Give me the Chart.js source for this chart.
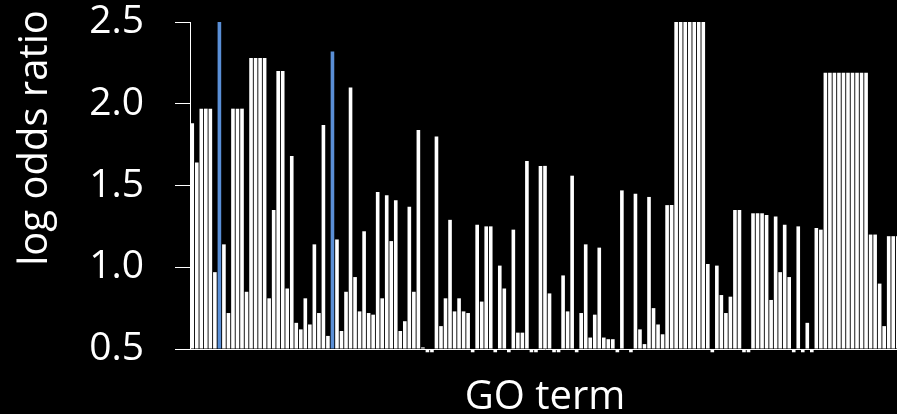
<!DOCTYPE html>
<html>
<head>
<meta charset="utf-8">
<title>log odds ratio by GO term</title>
<script src="https://cdn.jsdelivr.net/npm/chart.js@4.4.1/dist/chart.umd.min.js"></script>
<style>
  html, body { margin: 0; padding: 0; background: #000; overflow: hidden; }
  #wrap { position: relative; width: 900px; height: 414px; }
</style>
</head>
<body>
<div id="wrap"><canvas id="chart" width="900" height="414"></canvas></div>
<script>
// Log odds ratio for each enriched GO term (axis baseline sits at 0.5)
const logOddsRatio = [
  1.88, 1.64, 1.97, 1.97, 1.97, 0.97, 2.50, 1.14, 0.72, 1.97,
  1.97, 1.97, 0.85, 2.28, 2.28, 2.28, 2.28, 0.81, 1.35, 2.20,
  2.20, 0.87, 1.68, 0.66, 0.62, 0.81, 0.65, 1.14, 0.72, 1.87,
  0.58, 2.32, 1.17, 0.61, 0.85, 2.10, 0.94, 0.73, 1.22, 0.72,
  0.71, 1.46, 0.81, 1.44, 1.16, 1.41, 0.61, 0.67, 1.37, 0.85,
  1.84, 0.51, 0.48, 0.48, 1.80, 0.64, 0.81, 1.29, 0.73, 0.81,
  0.73, 0.72, 0.48, 1.26, 0.79, 1.25, 1.25, 0.48, 1.01, 0.87,
  0.48, 1.23, 0.60, 0.60, 1.65, 0.48, 0.48, 1.62, 1.62, 0.84,
  0.48, 0.48, 0.95, 0.73, 1.56, 0.48, 0.72, 1.14, 0.57, 0.71,
  1.12, 0.57, 0.56, 0.56, 0.48, 1.47, 0.50, 0.48, 1.45, 0.62,
  0.53, 1.43, 0.75, 0.65, 0.59, 1.38, 1.38, 2.50, 2.50, 2.50,
  2.50, 2.50, 2.50, 2.50, 1.02, 0.48, 1.01, 0.83, 0.72, 0.82,
  1.35, 1.35, 0.48, 0.48, 1.33, 1.33, 1.33, 1.32, 0.80, 1.31,
  0.97, 1.26, 0.94, 0.48, 1.25, 0.48, 0.66, 0.48, 1.24, 1.23,
  2.19, 2.19, 2.19, 2.19, 2.19, 2.19, 2.19, 2.19, 2.19, 2.19,
  1.20, 1.20, 0.90, 0.64, 1.19, 1.19, 1.19
];

// Terms drawn in blue
const highlightedTerms = [6, 31];

// Unlabelled categories, one per GO term
const goTerms = logOddsRatio.map((_, i) => 'GO:' + (i + 1));

// Y axis ticks
const yTickValues = [0.5, 1.0, 1.5, 2.0, 2.5];
const yTickLabels = ['0.5', '1.0', '1.5', '2.0', '2.5'];

const yAxisTitle = 'log odds ratio';
const xAxisTitle = 'GO term';

const FONT = '"Open Sans", "Noto Sans", sans-serif';
const WHITE = '#ffffff';
const BLUE = '#5a8fd6';

const barColors = goTerms.map((_, i) => highlightedTerms.includes(i) ? BLUE : WHITE);

// Rotated y-axis title, placed toward the upper part of the axis
const yTitlePlugin = {
  id: 'yTitle',
  afterDraw(chart) {
    const ctx = chart.ctx;
    ctx.save();
    ctx.translate(47, 138);
    ctx.rotate(-Math.PI / 2);
    ctx.font = '40px ' + FONT;
    ctx.fillStyle = WHITE;
    ctx.textAlign = 'center';
    ctx.textBaseline = 'alphabetic';
    ctx.fillText(yAxisTitle, 0, 0);
    ctx.restore();
  }
};

new Chart(document.getElementById('chart'), {
  type: 'bar',
  data: {
    labels: goTerms,
    datasets: [{
      data: logOddsRatio,
      base: 0.5,               // bars grow from the 0.5 baseline (up or down)
      backgroundColor: barColors,
      borderWidth: 0,
      barPercentage: 0.8,
      categoryPercentage: 1.0,
      clip: false
    }]
  },
  options: {
    responsive: false,
    animation: false,
    devicePixelRatio: 1,
    layout: { padding: { top: 22, left: 0, right: 0, bottom: 0 } },
    plugins: {
      legend: { display: false },
      tooltip: { enabled: false }
    },
    scales: {
      x: {
        afterFit: (scale) => {
          scale.height = 65;
          scale.paddingLeft = 0;
          scale.paddingRight = 0;
        },
        ticks: { display: false },
        grid: { display: false },
        border: { display: true, color: WHITE, width: 1, z: 1 },
        title: {
          display: true,
          text: xAxisTitle,
          color: WHITE,
          font: { family: FONT, size: 40, lineHeight: 0.8 },
          padding: { top: 0, bottom: 0 }
        }
      },
      y: {
        min: 0.5,
        max: 2.5,
        afterFit: (scale) => {
          scale.width = 190;
          scale.paddingTop = 0;
          scale.paddingBottom = 0;
        },
        ticks: {
          stepSize: 0.5,
          color: WHITE,
          padding: 31,
          font: { family: FONT, size: 39, lineHeight: 1 },
          callback: (v) => {
            const i = yTickValues.findIndex(t => Math.abs(t - v) < 1e-9);
            return i >= 0 ? yTickLabels[i] : '';
          }
        },
        grid: {
          display: true,
          drawOnChartArea: false,
          drawTicks: true,
          tickLength: 15,
          color: WHITE,
          lineWidth: 1
        },
        border: { display: true, color: WHITE, width: 1, z: 1 }
      }
    }
  },
  plugins: [yTitlePlugin]
});
</script>
</body>
</html>
